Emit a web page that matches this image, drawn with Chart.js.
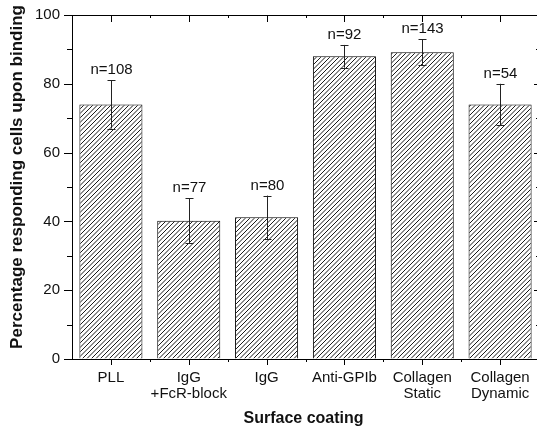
<!DOCTYPE html>
<html>
<head>
<meta charset="utf-8">
<script src="https://cdn.jsdelivr.net/npm/chart.js@4"></script>
<style>
  body { margin: 0; overflow: hidden; background: #fff; }
  #wrap { position: absolute; left: 0; top: 0; width: 545px; height: 429px; }
</style>
</head>
<body>
<div id="wrap"><canvas id="chart"></canvas></div>
<script>
const categories = ['PLL', ['IgG', '+FcR-block'], 'IgG', 'Anti-GPIb', ['Collagen', 'Static'], ['Collagen', 'Dynamic']];
const means = [74, 40.2, 41.2, 88, 89.2, 74];
const errors = [7, 6.5, 6.3, 3.3, 3.8, 6];
const counts = ['n=108', 'n=77', 'n=80', 'n=92', 'n=143', 'n=54'];
const yTicks = [0, 20, 40, 60, 80, 100];

const FONT = '"Liberation Sans", Arial, sans-serif';

// diagonal hatch fill
function hatch() {
    const c = document.createElement('canvas');
    c.width = 9; c.height = 9;
    const g = c.getContext('2d');
    g.fillStyle = '#fff';
    g.fillRect(0, 0, 9, 9);
    g.strokeStyle = '#000';
    g.lineWidth = 0.9;
    for (let k = 0; k <= 4; k++) {
        const s = k * 4.5;
        g.beginPath();
        g.moveTo(s + 2, -2);
        g.lineTo(-2, s + 2);
        g.stroke();
    }
    return g.createPattern(c, 'repeat');
}

const framePlugin = {
    id: 'frame',
    afterDraw(chart) {
        const ctx = chart.ctx;
        const a = chart.chartArea;
        const xs = chart.scales.x;
        const ys = chart.scales.y;
        const step = xs.getPixelForValue(1) - xs.getPixelForValue(0);

        ctx.save();
        ctx.strokeStyle = '#000';
        ctx.lineWidth = 1;

        // error bars
        ctx.strokeStyle = '#222';
        means.forEach((m, i) => {
            const px = Math.round(xs.getPixelForValue(i)) + 0.5;
            const top = ys.getPixelForValue(m + errors[i]);
            const bot = ys.getPixelForValue(m - errors[i]);
            ctx.beginPath();
            ctx.moveTo(px, top); ctx.lineTo(px, bot);
            ctx.moveTo(px - 4, Math.round(top) + 0.5); ctx.lineTo(px + 4, Math.round(top) + 0.5);
            ctx.moveTo(px - 4, Math.round(bot) + 0.5); ctx.lineTo(px + 4, Math.round(bot) + 0.5);
            ctx.stroke();

            ctx.fillStyle = '#111';
            ctx.font = '15px ' + FONT;
            ctx.textAlign = 'center';
            ctx.textBaseline = 'alphabetic';
            ctx.fillText(counts[i], px, top - 6);
        });

        ctx.strokeStyle = '#000';
        ctx.beginPath();
        // top and right border
        ctx.moveTo(a.left, a.top + 0.5); ctx.lineTo(a.right, a.top + 0.5);
        ctx.moveTo(a.right - 0.5, a.top); ctx.lineTo(a.right - 0.5, a.bottom);

        // y ticks, left outward, right inward
        for (let v = 0; v <= 100; v += 10) {
            const py = Math.round(ys.getPixelForValue(v)) + 0.5;
            const major = v % 20 === 0;
            ctx.moveTo(a.left - (major ? 8 : 5), py); ctx.lineTo(a.left, py);
            ctx.moveTo(a.right, py); ctx.lineTo(a.right - (major ? 5 : 3), py);
        }

        // x ticks, bottom outward, top inward
        categories.forEach((c, i) => {
            const px = Math.round(xs.getPixelForValue(i)) + 0.5;
            ctx.moveTo(px, a.bottom); ctx.lineTo(px, a.bottom + 6);
            ctx.moveTo(px, a.top); ctx.lineTo(px, a.top + 7);
            if (i > 0) {
                const bx = Math.round(xs.getPixelForValue(i) - step / 2) + 0.5;
                ctx.moveTo(bx, a.bottom); ctx.lineTo(bx, a.bottom + 3);
                ctx.moveTo(bx, a.top); ctx.lineTo(bx, a.top + 3);
            }
        });
        ctx.stroke();

        // axis titles
        ctx.fillStyle = '#111';
        ctx.textAlign = 'center';
        ctx.textBaseline = 'middle';
        ctx.font = 'bold 16px ' + FONT;
        ctx.fillText('Surface coating', (a.left + a.right) / 2 - 2, 419);

        ctx.translate(17, 177);
        ctx.rotate(-Math.PI / 2);
        ctx.font = 'bold 17px ' + FONT;
        ctx.fillText('Percentage responding cells upon binding', 0, 0);
        ctx.restore();
    }
};

new Chart(document.getElementById('chart'), {
    type: 'bar',
    data: {
        labels: categories,
        datasets: [{
            data: means,
            backgroundColor: hatch(),
            borderColor: '#000',
            borderWidth: 1,
            categoryPercentage: 1,
            barPercentage: 0.81
        }]
    },
    options: {
        responsive: true,
        maintainAspectRatio: false,
        animation: false,
        layout: {
            padding: { top: 15, right: 6, left: 0, bottom: 0 }
        },
        scales: {
            x: {
                grid: { display: true, drawOnChartArea: false, color: 'transparent', tickLength: 6 },
                border: { display: true, color: '#000', width: 1 },
                ticks: {
                    color: '#111',
                    padding: 5,
                    maxRotation: 0,
                    autoSkip: false,
                    font: { family: FONT, size: 15, lineHeight: 1.05 }
                },
                afterFit: scale => { scale.height = 70; }
            },
            y: {
                min: 0,
                max: 100,
                afterBuildTicks: scale => { scale.ticks = yTicks.map(v => ({ value: v })); },
                grid: { display: true, drawOnChartArea: false, color: 'transparent', tickLength: 8 },
                border: { display: true, color: '#000', width: 1 },
                ticks: {
                    color: '#111',
                    padding: 4,
                    font: { family: FONT, size: 15 }
                },
                afterFit: scale => { scale.width = 72; }
            }
        },
        plugins: {
            legend: { display: false },
            tooltip: { enabled: false }
        }
    },
    plugins: [framePlugin]
});
</script>
</body>
</html>
